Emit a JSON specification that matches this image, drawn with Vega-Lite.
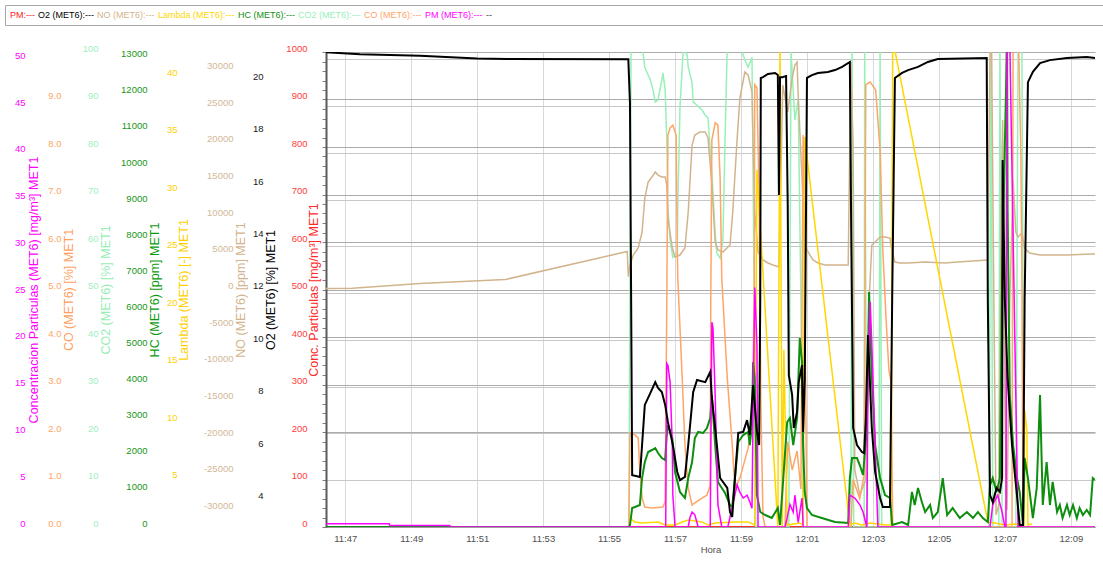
{
"$schema":"https://vega.github.io/schema/vega-lite/v6.json",
"width":769,"height":475,
"autosize":{"type":"none"},
"padding":{"left":326,"top":52,"right":8,"bottom":35},
"background":"white",
"config":{"view":{"stroke":null},"font":"Liberation Sans",
"axisY":{"domain":false,"ticks":false,"tickSize":0,"labelPadding":0,"labelFontSize":9.5,"labelOffset":-4,"labelOverlap":false,"titleFontSize":12.5,"titleFontWeight":"normal","titleAngle":270,"titleAlign":"center","titleBaseline":"middle","titleY":237.5,"grid":false}},
"data":{"format":{"parse":{"t":"date:'%H:%M:%S'"}},"values":[
{"s":"PM","t":"11:46:25","v":0},{"s":"PM","t":"12:09:44","v":0},
{"s":"CO2 (MET6)","t":"11:46:25","v":0},{"s":"CO2 (MET6)","t":"11:55:36","v":0},{"s":"CO2 (MET6)","t":"11:55:40","v":102.5},{"s":"CO2 (MET6)","t":"11:56:00","v":101.5},{"s":"CO2 (MET6)","t":"11:56:05","v":96.8},{"s":"CO2 (MET6)","t":"11:56:15","v":94.1},{"s":"CO2 (MET6)","t":"11:56:20","v":92},{"s":"CO2 (MET6)","t":"11:56:24","v":89.5},{"s":"CO2 (MET6)","t":"11:56:29","v":89.9},{"s":"CO2 (MET6)","t":"11:56:36","v":94.1},{"s":"CO2 (MET6)","t":"11:56:38","v":95.6},{"s":"CO2 (MET6)","t":"11:56:42","v":92},{"s":"CO2 (MET6)","t":"11:56:45","v":81.5},{"s":"CO2 (MET6)","t":"11:56:47","v":67.4},{"s":"CO2 (MET6)","t":"11:56:51","v":60.4},{"s":"CO2 (MET6)","t":"11:56:56","v":56.8},{"s":"CO2 (MET6)","t":"11:57:04","v":57.7},{"s":"CO2 (MET6)","t":"11:57:05","v":67.4},{"s":"CO2 (MET6)","t":"11:57:09","v":88.4},{"s":"CO2 (MET6)","t":"11:57:15","v":100.8},{"s":"CO2 (MET6)","t":"11:57:22","v":99.4},{"s":"CO2 (MET6)","t":"11:57:24","v":96.8},{"s":"CO2 (MET6)","t":"11:57:31","v":93.5},{"s":"CO2 (MET6)","t":"11:57:33","v":89.5},{"s":"CO2 (MET6)","t":"11:57:40","v":88.8},{"s":"CO2 (MET6)","t":"11:57:49","v":87.8},{"s":"CO2 (MET6)","t":"11:57:55","v":86.7},{"s":"CO2 (MET6)","t":"11:58:00","v":86.1},{"s":"CO2 (MET6)","t":"11:58:07","v":74.5},{"s":"CO2 (MET6)","t":"11:58:13","v":61.9},{"s":"CO2 (MET6)","t":"11:58:16","v":57.7},{"s":"CO2 (MET6)","t":"11:58:22","v":56.6},{"s":"CO2 (MET6)","t":"11:58:27","v":60.4},{"s":"CO2 (MET6)","t":"11:58:31","v":81.5},{"s":"CO2 (MET6)","t":"11:58:35","v":101.5},{"s":"CO2 (MET6)","t":"11:58:58","v":101.5},{"s":"CO2 (MET6)","t":"11:59:07","v":98.3},{"s":"CO2 (MET6)","t":"11:59:13","v":96.8},{"s":"CO2 (MET6)","t":"11:59:20","v":98.9},{"s":"CO2 (MET6)","t":"11:59:24","v":47.8},{"s":"CO2 (MET6)","t":"11:59:27","v":0},{"s":"CO2 (MET6)","t":"12:00:27","v":0},{"s":"CO2 (MET6)","t":"12:00:31","v":100},{"s":"CO2 (MET6)","t":"12:00:38","v":85.7},{"s":"CO2 (MET6)","t":"12:00:44","v":89.9},{"s":"CO2 (MET6)","t":"12:00:49","v":47.8},{"s":"CO2 (MET6)","t":"12:00:53","v":0},{"s":"CO2 (MET6)","t":"12:02:20","v":0},{"s":"CO2 (MET6)","t":"12:02:22","v":101.5},{"s":"CO2 (MET6)","t":"12:02:25","v":0},{"s":"CO2 (MET6)","t":"12:02:44","v":0},{"s":"CO2 (MET6)","t":"12:02:45","v":101.5},{"s":"CO2 (MET6)","t":"12:02:49","v":0},{"s":"CO2 (MET6)","t":"12:03:11","v":0},{"s":"CO2 (MET6)","t":"12:03:13","v":101.5},{"s":"CO2 (MET6)","t":"12:03:16","v":0},{"s":"CO2 (MET6)","t":"12:06:31","v":0},{"s":"CO2 (MET6)","t":"12:06:35","v":101.5},{"s":"CO2 (MET6)","t":"12:06:38","v":0},{"s":"CO2 (MET6)","t":"12:06:49","v":0},{"s":"CO2 (MET6)","t":"12:06:51","v":101.5},{"s":"CO2 (MET6)","t":"12:06:55","v":0},{"s":"CO2 (MET6)","t":"12:07:20","v":0},{"s":"CO2 (MET6)","t":"12:07:24","v":101.5},{"s":"CO2 (MET6)","t":"12:07:31","v":101.5},{"s":"CO2 (MET6)","t":"12:07:35","v":0},{"s":"CO2 (MET6)","t":"12:09:44","v":0},
{"s":"NO (MET6)","t":"11:46:25","v":136},{"s":"NO (MET6)","t":"11:47:13","v":163},{"s":"NO (MET6)","t":"11:49:16","v":817},{"s":"NO (MET6)","t":"11:51:51","v":1362},{"s":"NO (MET6)","t":"11:55:33","v":5176},{"s":"NO (MET6)","t":"11:55:35","v":1743},{"s":"NO (MET6)","t":"11:55:38","v":3337},{"s":"NO (MET6)","t":"11:55:44","v":4699},{"s":"NO (MET6)","t":"11:55:53","v":5652},{"s":"NO (MET6)","t":"11:56:00","v":7832},{"s":"NO (MET6)","t":"11:56:05","v":12462},{"s":"NO (MET6)","t":"11:56:11","v":14642},{"s":"NO (MET6)","t":"11:56:18","v":15323},{"s":"NO (MET6)","t":"11:56:24","v":16004},{"s":"NO (MET6)","t":"11:56:29","v":15595},{"s":"NO (MET6)","t":"11:56:36","v":15323},{"s":"NO (MET6)","t":"11:56:42","v":15323},{"s":"NO (MET6)","t":"11:56:45","v":14233},{"s":"NO (MET6)","t":"11:56:47","v":9738},{"s":"NO (MET6)","t":"11:56:55","v":5652},{"s":"NO (MET6)","t":"11:57:00","v":4427},{"s":"NO (MET6)","t":"11:57:09","v":4699},{"s":"NO (MET6)","t":"11:57:18","v":5652},{"s":"NO (MET6)","t":"11:57:24","v":10556},{"s":"NO (MET6)","t":"11:57:31","v":19681},{"s":"NO (MET6)","t":"11:57:36","v":21043},{"s":"NO (MET6)","t":"11:57:45","v":21452},{"s":"NO (MET6)","t":"11:57:55","v":21452},{"s":"NO (MET6)","t":"11:58:00","v":20634},{"s":"NO (MET6)","t":"11:58:07","v":14233},{"s":"NO (MET6)","t":"11:58:13","v":6470},{"s":"NO (MET6)","t":"11:58:18","v":5380},{"s":"NO (MET6)","t":"11:58:27","v":5108},{"s":"NO (MET6)","t":"11:58:40","v":6061},{"s":"NO (MET6)","t":"11:58:45","v":10556},{"s":"NO (MET6)","t":"11:58:53","v":20634},{"s":"NO (MET6)","t":"11:58:58","v":26082},{"s":"NO (MET6)","t":"11:59:07","v":29624},{"s":"NO (MET6)","t":"11:59:13","v":29215},{"s":"NO (MET6)","t":"11:59:20","v":26900},{"s":"NO (MET6)","t":"11:59:22","v":19681},{"s":"NO (MET6)","t":"11:59:25","v":10556},{"s":"NO (MET6)","t":"11:59:31","v":5108},{"s":"NO (MET6)","t":"11:59:40","v":4018},{"s":"NO (MET6)","t":"11:59:49","v":3609},{"s":"NO (MET6)","t":"11:59:58","v":3337},{"s":"NO (MET6)","t":"12:00:09","v":3065},{"s":"NO (MET6)","t":"12:00:16","v":27853},{"s":"NO (MET6)","t":"12:00:25","v":24176},{"s":"NO (MET6)","t":"12:00:33","v":28806},{"s":"NO (MET6)","t":"12:00:38","v":30577},{"s":"NO (MET6)","t":"12:00:42","v":30986},{"s":"NO (MET6)","t":"12:00:44","v":26491},{"s":"NO (MET6)","t":"12:00:51","v":15186},{"s":"NO (MET6)","t":"12:00:56","v":6061},{"s":"NO (MET6)","t":"12:01:02","v":5108},{"s":"NO (MET6)","t":"12:01:11","v":4018},{"s":"NO (MET6)","t":"12:01:20","v":3609},{"s":"NO (MET6)","t":"12:01:33","v":3337},{"s":"NO (MET6)","t":"12:02:15","v":3337},{"s":"NO (MET6)","t":"12:02:20","v":30986},{"s":"NO (MET6)","t":"12:02:24","v":19000},{"s":"NO (MET6)","t":"12:02:27","v":-24584},{"s":"NO (MET6)","t":"12:02:36","v":-27989},{"s":"NO (MET6)","t":"12:02:47","v":-25946},{"s":"NO (MET6)","t":"12:02:53","v":-1430},{"s":"NO (MET6)","t":"12:02:58","v":6061},{"s":"NO (MET6)","t":"12:03:04","v":6470},{"s":"NO (MET6)","t":"12:03:13","v":7151},{"s":"NO (MET6)","t":"12:03:22","v":7151},{"s":"NO (MET6)","t":"12:03:31","v":7014},{"s":"NO (MET6)","t":"12:03:35","v":5108},{"s":"NO (MET6)","t":"12:03:40","v":3746},{"s":"NO (MET6)","t":"12:03:49","v":3609},{"s":"NO (MET6)","t":"12:04:04","v":3609},{"s":"NO (MET6)","t":"12:04:35","v":3746},{"s":"NO (MET6)","t":"12:05:11","v":3609},{"s":"NO (MET6)","t":"12:05:33","v":3746},{"s":"NO (MET6)","t":"12:06:02","v":3882},{"s":"NO (MET6)","t":"12:06:29","v":4018},{"s":"NO (MET6)","t":"12:06:33","v":32300},{"s":"NO (MET6)","t":"12:06:36","v":32300},{"s":"NO (MET6)","t":"12:06:40","v":-1430},{"s":"NO (MET6)","t":"12:06:44","v":-30713},{"s":"NO (MET6)","t":"12:06:49","v":-29351},{"s":"NO (MET6)","t":"12:06:53","v":8104},{"s":"NO (MET6)","t":"12:06:56","v":23086},{"s":"NO (MET6)","t":"12:07:00","v":-15050},{"s":"NO (MET6)","t":"12:07:04","v":-30032},{"s":"NO (MET6)","t":"12:07:09","v":-1430},{"s":"NO (MET6)","t":"12:07:15","v":14914},{"s":"NO (MET6)","t":"12:07:20","v":7832},{"s":"NO (MET6)","t":"12:07:24","v":7151},{"s":"NO (MET6)","t":"12:07:31","v":7695},{"s":"NO (MET6)","t":"12:07:36","v":5652},{"s":"NO (MET6)","t":"12:07:45","v":4971},{"s":"NO (MET6)","t":"12:08:04","v":4699},{"s":"NO (MET6)","t":"12:08:53","v":4699},{"s":"NO (MET6)","t":"12:09:38","v":4835},{"s":"NO (MET6)","t":"12:09:44","v":4835},
{"s":"CO (MET6)","t":"11:46:25","v":0},{"s":"CO (MET6)","t":"11:55:36","v":0},{"s":"CO (MET6)","t":"11:55:38","v":1.98},{"s":"CO (MET6)","t":"11:55:47","v":1.94},{"s":"CO (MET6)","t":"11:55:53","v":1.87},{"s":"CO (MET6)","t":"11:55:56","v":1.16},{"s":"CO (MET6)","t":"11:56:00","v":0.61},{"s":"CO (MET6)","t":"11:56:05","v":0.42},{"s":"CO (MET6)","t":"11:56:18","v":0.4},{"s":"CO (MET6)","t":"11:56:38","v":0.42},{"s":"CO (MET6)","t":"11:56:42","v":0.53},{"s":"CO (MET6)","t":"11:56:45","v":4.78},{"s":"CO (MET6)","t":"11:56:47","v":8.25},{"s":"CO (MET6)","t":"11:56:51","v":8.4},{"s":"CO (MET6)","t":"11:56:56","v":8.46},{"s":"CO (MET6)","t":"11:57:02","v":8.25},{"s":"CO (MET6)","t":"11:57:04","v":5.94},{"s":"CO (MET6)","t":"11:57:05","v":5.24},{"s":"CO (MET6)","t":"11:57:13","v":3.14},{"s":"CO (MET6)","t":"11:57:18","v":1.73},{"s":"CO (MET6)","t":"11:57:24","v":0.82},{"s":"CO (MET6)","t":"11:57:31","v":0.46},{"s":"CO (MET6)","t":"11:57:36","v":0.51},{"s":"CO (MET6)","t":"11:57:49","v":0.61},{"s":"CO (MET6)","t":"11:57:58","v":0.67},{"s":"CO (MET6)","t":"11:58:04","v":0.88},{"s":"CO (MET6)","t":"11:58:05","v":4.78},{"s":"CO (MET6)","t":"11:58:07","v":8.15},{"s":"CO (MET6)","t":"11:58:13","v":8.51},{"s":"CO (MET6)","t":"11:58:18","v":8.46},{"s":"CO (MET6)","t":"11:58:22","v":7.35},{"s":"CO (MET6)","t":"11:58:25","v":5.24},{"s":"CO (MET6)","t":"11:58:35","v":3.14},{"s":"CO (MET6)","t":"11:58:44","v":1.73},{"s":"CO (MET6)","t":"11:58:49","v":0.82},{"s":"CO (MET6)","t":"11:58:58","v":1.03},{"s":"CO (MET6)","t":"11:59:13","v":1.66},{"s":"CO (MET6)","t":"11:59:20","v":2.15},{"s":"CO (MET6)","t":"11:59:24","v":4.78},{"s":"CO (MET6)","t":"11:59:25","v":9.31},{"s":"CO (MET6)","t":"11:59:29","v":9.24},{"s":"CO (MET6)","t":"11:59:33","v":6.88},{"s":"CO (MET6)","t":"11:59:36","v":2.67},{"s":"CO (MET6)","t":"11:59:40","v":0.21},{"s":"CO (MET6)","t":"11:59:44","v":0},{"s":"CO (MET6)","t":"12:00:20","v":0},{"s":"CO (MET6)","t":"12:00:25","v":1.8},{"s":"CO (MET6)","t":"12:00:33","v":1.2},{"s":"CO (MET6)","t":"12:00:42","v":1.6},{"s":"CO (MET6)","t":"12:00:49","v":0.8},{"s":"CO (MET6)","t":"12:00:53","v":8.25},{"s":"CO (MET6)","t":"12:00:56","v":4.78},{"s":"CO (MET6)","t":"12:01:00","v":0},{"s":"CO (MET6)","t":"12:02:20","v":0},{"s":"CO (MET6)","t":"12:02:24","v":1},{"s":"CO (MET6)","t":"12:02:36","v":0.6},{"s":"CO (MET6)","t":"12:02:44","v":1.1},{"s":"CO (MET6)","t":"12:02:47","v":9.31},{"s":"CO (MET6)","t":"12:02:55","v":9.37},{"s":"CO (MET6)","t":"12:03:05","v":9.2},{"s":"CO (MET6)","t":"12:03:13","v":7.94},{"s":"CO (MET6)","t":"12:03:18","v":5.83},{"s":"CO (MET6)","t":"12:03:24","v":4.36},{"s":"CO (MET6)","t":"12:03:29","v":3.31},{"s":"CO (MET6)","t":"12:03:33","v":3.05},{"s":"CO (MET6)","t":"12:03:36","v":0},{"s":"CO (MET6)","t":"12:07:13","v":0},{"s":"CO (MET6)","t":"12:07:15","v":10.15},{"s":"CO (MET6)","t":"12:07:25","v":10.15},{"s":"CO (MET6)","t":"12:07:29","v":7.94},{"s":"CO (MET6)","t":"12:07:31","v":5.52},{"s":"CO (MET6)","t":"12:07:33","v":0},{"s":"CO (MET6)","t":"12:09:44","v":0},
{"s":"Lambda (MET6)","t":"11:55:38","v":1.82},{"s":"Lambda (MET6)","t":"11:55:42","v":1.39},{"s":"Lambda (MET6)","t":"11:55:47","v":1.22},{"s":"Lambda (MET6)","t":"11:56:00","v":1.13},{"s":"Lambda (MET6)","t":"11:56:29","v":1.22},{"s":"Lambda (MET6)","t":"11:56:42","v":0.95},{"s":"Lambda (MET6)","t":"11:57:00","v":0.95},{"s":"Lambda (MET6)","t":"11:57:13","v":1.22},{"s":"Lambda (MET6)","t":"11:57:24","v":1.39},{"s":"Lambda (MET6)","t":"11:57:49","v":1.22},{"s":"Lambda (MET6)","t":"11:58:00","v":0.95},{"s":"Lambda (MET6)","t":"11:58:13","v":1.13},{"s":"Lambda (MET6)","t":"11:58:49","v":1.22},{"s":"Lambda (MET6)","t":"11:59:13","v":1.22},{"s":"Lambda (MET6)","t":"11:59:25","v":0.95},{"s":"Lambda (MET6)","t":"11:59:29","v":31.85},{"s":"Lambda (MET6)","t":"12:00:07","v":0.8},{"s":"Lambda (MET6)","t":"12:00:11","v":43.2},{"s":"Lambda (MET6)","t":"12:00:15","v":0.8},{"s":"Lambda (MET6)","t":"12:00:18","v":16.2},{"s":"Lambda (MET6)","t":"12:00:24","v":0.95},{"s":"Lambda (MET6)","t":"12:00:47","v":1.13},{"s":"Lambda (MET6)","t":"12:00:53","v":0.95},{"s":"Lambda (MET6)","t":"12:00:56","v":34.7},{"s":"Lambda (MET6)","t":"12:02:18","v":0.95},{"s":"Lambda (MET6)","t":"12:02:27","v":1.13},{"s":"Lambda (MET6)","t":"12:02:40","v":0.95},{"s":"Lambda (MET6)","t":"12:02:55","v":1.13},{"s":"Lambda (MET6)","t":"12:03:22","v":0.95},{"s":"Lambda (MET6)","t":"12:03:33","v":0.95},{"s":"Lambda (MET6)","t":"12:03:36","v":43.2},{"s":"Lambda (MET6)","t":"12:06:29","v":1.22},{"s":"Lambda (MET6)","t":"12:06:42","v":1.13},{"s":"Lambda (MET6)","t":"12:07:00","v":0.95},{"s":"Lambda (MET6)","t":"12:07:18","v":1.04},{"s":"Lambda (MET6)","t":"12:07:35","v":0.95},{"s":"Lambda (MET6)","t":"12:07:36","v":10.96},{"s":"Lambda (MET6)","t":"12:07:40","v":9.22},{"s":"Lambda (MET6)","t":"12:07:42","v":0.95},{"s":"Lambda (MET6)","t":"12:07:49","v":1.04},
{"s":"PM (MET6)","t":"11:46:25","v":0.35},{"s":"PM (MET6)","t":"11:48:20","v":0.35},{"s":"PM (MET6)","t":"11:48:21","v":0.15},{"s":"PM (MET6)","t":"11:50:10","v":0.15},{"s":"PM (MET6)","t":"11:50:12","v":0},{"s":"PM (MET6)","t":"11:56:43","v":0},{"s":"PM (MET6)","t":"11:56:45","v":17.5},{"s":"PM (MET6)","t":"11:56:47","v":17.3},{"s":"PM (MET6)","t":"11:56:51","v":15.5},{"s":"PM (MET6)","t":"11:56:55","v":8.8},{"s":"PM (MET6)","t":"11:56:56","v":3.4},{"s":"PM (MET6)","t":"11:57:00","v":0},{"s":"PM (MET6)","t":"11:57:24","v":0},{"s":"PM (MET6)","t":"11:57:27","v":1},{"s":"PM (MET6)","t":"11:57:31","v":1.6},{"s":"PM (MET6)","t":"11:57:36","v":1.3},{"s":"PM (MET6)","t":"11:57:42","v":0},{"s":"PM (MET6)","t":"11:58:04","v":0},{"s":"PM (MET6)","t":"11:58:07","v":21.9},{"s":"PM (MET6)","t":"11:58:09","v":21.3},{"s":"PM (MET6)","t":"11:58:13","v":14.1},{"s":"PM (MET6)","t":"11:58:16","v":7},{"s":"PM (MET6)","t":"11:58:18","v":2.4},{"s":"PM (MET6)","t":"11:58:25","v":0},{"s":"PM (MET6)","t":"11:58:36","v":0},{"s":"PM (MET6)","t":"11:58:45","v":2.4},{"s":"PM (MET6)","t":"11:58:53","v":4.5},{"s":"PM (MET6)","t":"11:58:58","v":3.7},{"s":"PM (MET6)","t":"11:59:04","v":3.1},{"s":"PM (MET6)","t":"11:59:11","v":3.4},{"s":"PM (MET6)","t":"11:59:16","v":2.7},{"s":"PM (MET6)","t":"11:59:20","v":2},{"s":"PM (MET6)","t":"11:59:22","v":12.3},{"s":"PM (MET6)","t":"11:59:25","v":25.6},{"s":"PM (MET6)","t":"11:59:29","v":19.5},{"s":"PM (MET6)","t":"11:59:31","v":0},{"s":"PM (MET6)","t":"12:00:20","v":0},{"s":"PM (MET6)","t":"12:00:24","v":1},{"s":"PM (MET6)","t":"12:00:29","v":2.4},{"s":"PM (MET6)","t":"12:00:35","v":1.6},{"s":"PM (MET6)","t":"12:00:38","v":3.4},{"s":"PM (MET6)","t":"12:00:44","v":0.5},{"s":"PM (MET6)","t":"12:00:51","v":3.1},{"s":"PM (MET6)","t":"12:00:53","v":0},{"s":"PM (MET6)","t":"12:02:15","v":0},{"s":"PM (MET6)","t":"12:02:18","v":3.4},{"s":"PM (MET6)","t":"12:02:27","v":3.1},{"s":"PM (MET6)","t":"12:02:36","v":2.4},{"s":"PM (MET6)","t":"12:02:42","v":1.6},{"s":"PM (MET6)","t":"12:02:49","v":0},{"s":"PM (MET6)","t":"12:02:51","v":15.9},{"s":"PM (MET6)","t":"12:02:55","v":24.1},{"s":"PM (MET6)","t":"12:02:58","v":19.5},{"s":"PM (MET6)","t":"12:03:04","v":8.8},{"s":"PM (MET6)","t":"12:03:09","v":0},{"s":"PM (MET6)","t":"12:06:33","v":0},{"s":"PM (MET6)","t":"12:06:38","v":2.4},{"s":"PM (MET6)","t":"12:06:47","v":3.4},{"s":"PM (MET6)","t":"12:06:55","v":1.6},{"s":"PM (MET6)","t":"12:07:00","v":0},{"s":"PM (MET6)","t":"12:07:02","v":0},{"s":"PM (MET6)","t":"12:07:04","v":52},{"s":"PM (MET6)","t":"12:07:09","v":52},{"s":"PM (MET6)","t":"12:07:24","v":0},{"s":"PM (MET6)","t":"12:09:44","v":0},
{"s":"HC (MET6)","t":"11:46:25","v":0},{"s":"HC (MET6)","t":"11:55:36","v":0},{"s":"HC (MET6)","t":"11:55:38","v":55},{"s":"HC (MET6)","t":"11:55:42","v":526},{"s":"HC (MET6)","t":"11:55:47","v":554},{"s":"HC (MET6)","t":"11:55:56","v":609},{"s":"HC (MET6)","t":"11:56:00","v":1357},{"s":"HC (MET6)","t":"11:56:05","v":1800},{"s":"HC (MET6)","t":"11:56:11","v":2078},{"s":"HC (MET6)","t":"11:56:18","v":2133},{"s":"HC (MET6)","t":"11:56:24","v":2188},{"s":"HC (MET6)","t":"11:56:29","v":2050},{"s":"HC (MET6)","t":"11:56:36","v":1911},{"s":"HC (MET6)","t":"11:56:42","v":1856},{"s":"HC (MET6)","t":"11:56:45","v":2548},{"s":"HC (MET6)","t":"11:56:47","v":2825},{"s":"HC (MET6)","t":"11:56:55","v":2465},{"s":"HC (MET6)","t":"11:57:00","v":1524},{"s":"HC (MET6)","t":"11:57:09","v":970},{"s":"HC (MET6)","t":"11:57:18","v":803},{"s":"HC (MET6)","t":"11:57:24","v":1357},{"s":"HC (MET6)","t":"11:57:31","v":1800},{"s":"HC (MET6)","t":"11:57:36","v":2465},{"s":"HC (MET6)","t":"11:57:42","v":2632},{"s":"HC (MET6)","t":"11:57:51","v":2604},{"s":"HC (MET6)","t":"11:57:58","v":2742},{"s":"HC (MET6)","t":"11:58:04","v":3019},{"s":"HC (MET6)","t":"11:58:07","v":3656},{"s":"HC (MET6)","t":"11:58:13","v":2271},{"s":"HC (MET6)","t":"11:58:18","v":1247},{"s":"HC (MET6)","t":"11:58:25","v":1080},{"s":"HC (MET6)","t":"11:58:31","v":942},{"s":"HC (MET6)","t":"11:58:40","v":609},{"s":"HC (MET6)","t":"11:58:44","v":554},{"s":"HC (MET6)","t":"11:58:49","v":1357},{"s":"HC (MET6)","t":"11:58:55","v":2355},{"s":"HC (MET6)","t":"11:59:04","v":2548},{"s":"HC (MET6)","t":"11:59:13","v":2632},{"s":"HC (MET6)","t":"11:59:16","v":2271},{"s":"HC (MET6)","t":"11:59:20","v":2825},{"s":"HC (MET6)","t":"11:59:22","v":4571},{"s":"HC (MET6)","t":"11:59:25","v":4127},{"s":"HC (MET6)","t":"11:59:29","v":886},{"s":"HC (MET6)","t":"11:59:35","v":416},{"s":"HC (MET6)","t":"11:59:44","v":332},{"s":"HC (MET6)","t":"11:59:56","v":249},{"s":"HC (MET6)","t":"12:00:07","v":526},{"s":"HC (MET6)","t":"12:00:11","v":55},{"s":"HC (MET6)","t":"12:00:24","v":2909},{"s":"HC (MET6)","t":"12:00:29","v":3019},{"s":"HC (MET6)","t":"12:00:35","v":2271},{"s":"HC (MET6)","t":"12:00:42","v":3019},{"s":"HC (MET6)","t":"12:00:44","v":3933},{"s":"HC (MET6)","t":"12:00:47","v":5235},{"s":"HC (MET6)","t":"12:00:51","v":4571},{"s":"HC (MET6)","t":"12:00:53","v":2271},{"s":"HC (MET6)","t":"12:00:56","v":970},{"s":"HC (MET6)","t":"12:01:00","v":526},{"s":"HC (MET6)","t":"12:01:09","v":332},{"s":"HC (MET6)","t":"12:01:27","v":249},{"s":"HC (MET6)","t":"12:01:51","v":139},{"s":"HC (MET6)","t":"12:02:15","v":111},{"s":"HC (MET6)","t":"12:02:18","v":1357},{"s":"HC (MET6)","t":"12:02:22","v":1911},{"s":"HC (MET6)","t":"12:02:31","v":1911},{"s":"HC (MET6)","t":"12:02:36","v":1717},{"s":"HC (MET6)","t":"12:02:42","v":1440},{"s":"HC (MET6)","t":"12:02:49","v":2742},{"s":"HC (MET6)","t":"12:02:53","v":6510},{"s":"HC (MET6)","t":"12:02:58","v":4127},{"s":"HC (MET6)","t":"12:03:04","v":2271},{"s":"HC (MET6)","t":"12:03:13","v":1357},{"s":"HC (MET6)","t":"12:03:22","v":886},{"s":"HC (MET6)","t":"12:03:31","v":803},{"s":"HC (MET6)","t":"12:03:35","v":55},{"s":"HC (MET6)","t":"12:03:53","v":139},{"s":"HC (MET6)","t":"12:04:04","v":55},{"s":"HC (MET6)","t":"12:04:11","v":970},{"s":"HC (MET6)","t":"12:04:16","v":609},{"s":"HC (MET6)","t":"12:04:22","v":1080},{"s":"HC (MET6)","t":"12:04:29","v":693},{"s":"HC (MET6)","t":"12:04:35","v":416},{"s":"HC (MET6)","t":"12:04:44","v":609},{"s":"HC (MET6)","t":"12:04:49","v":249},{"s":"HC (MET6)","t":"12:04:58","v":416},{"s":"HC (MET6)","t":"12:05:07","v":1357},{"s":"HC (MET6)","t":"12:05:15","v":332},{"s":"HC (MET6)","t":"12:05:25","v":526},{"s":"HC (MET6)","t":"12:05:38","v":249},{"s":"HC (MET6)","t":"12:05:51","v":416},{"s":"HC (MET6)","t":"12:06:02","v":249},{"s":"HC (MET6)","t":"12:06:11","v":416},{"s":"HC (MET6)","t":"12:06:20","v":249},{"s":"HC (MET6)","t":"12:06:29","v":139},{"s":"HC (MET6)","t":"12:06:33","v":1163},{"s":"HC (MET6)","t":"12:06:38","v":1357},{"s":"HC (MET6)","t":"12:06:45","v":970},{"s":"HC (MET6)","t":"12:06:51","v":1357},{"s":"HC (MET6)","t":"12:06:55","v":6897},{"s":"HC (MET6)","t":"12:07:00","v":10581},{"s":"HC (MET6)","t":"12:07:04","v":13490},{"s":"HC (MET6)","t":"12:07:05","v":8726},{"s":"HC (MET6)","t":"12:07:09","v":3656},{"s":"HC (MET6)","t":"12:07:15","v":2271},{"s":"HC (MET6)","t":"12:07:22","v":1357},{"s":"HC (MET6)","t":"12:07:27","v":970},{"s":"HC (MET6)","t":"12:07:33","v":55},{"s":"HC (MET6)","t":"12:07:36","v":1911},{"s":"HC (MET6)","t":"12:07:42","v":1357},{"s":"HC (MET6)","t":"12:07:51","v":249},{"s":"HC (MET6)","t":"12:07:58","v":1080},{"s":"HC (MET6)","t":"12:08:04","v":3656},{"s":"HC (MET6)","t":"12:08:09","v":609},{"s":"HC (MET6)","t":"12:08:16","v":1800},{"s":"HC (MET6)","t":"12:08:22","v":609},{"s":"HC (MET6)","t":"12:08:27","v":1247},{"s":"HC (MET6)","t":"12:08:35","v":416},{"s":"HC (MET6)","t":"12:08:40","v":609},{"s":"HC (MET6)","t":"12:08:45","v":249},{"s":"HC (MET6)","t":"12:08:53","v":609},{"s":"HC (MET6)","t":"12:08:58","v":332},{"s":"HC (MET6)","t":"12:09:04","v":609},{"s":"HC (MET6)","t":"12:09:11","v":249},{"s":"HC (MET6)","t":"12:09:16","v":526},{"s":"HC (MET6)","t":"12:09:22","v":332},{"s":"HC (MET6)","t":"12:09:29","v":471},{"s":"HC (MET6)","t":"12:09:35","v":332},{"s":"HC (MET6)","t":"12:09:40","v":1357},{"s":"HC (MET6)","t":"12:09:44","v":1302},
{"s":"O2 (MET6)","t":"11:46:25","v":21.07},{"s":"O2 (MET6)","t":"11:47:27","v":20.99},{"s":"O2 (MET6)","t":"11:49:16","v":20.94},{"s":"O2 (MET6)","t":"11:51:00","v":20.83},{"s":"O2 (MET6)","t":"11:51:55","v":20.81},{"s":"O2 (MET6)","t":"11:55:35","v":20.8},{"s":"O2 (MET6)","t":"11:55:38","v":19.13},{"s":"O2 (MET6)","t":"11:55:42","v":4.93},{"s":"O2 (MET6)","t":"11:55:49","v":4.9},{"s":"O2 (MET6)","t":"11:55:56","v":4.86},{"s":"O2 (MET6)","t":"11:56:00","v":6.08},{"s":"O2 (MET6)","t":"11:56:05","v":7.61},{"s":"O2 (MET6)","t":"11:56:15","v":8.06},{"s":"O2 (MET6)","t":"11:56:24","v":8.48},{"s":"O2 (MET6)","t":"11:56:29","v":8.26},{"s":"O2 (MET6)","t":"11:56:36","v":8.1},{"s":"O2 (MET6)","t":"11:56:42","v":7.61},{"s":"O2 (MET6)","t":"11:56:47","v":6.96},{"s":"O2 (MET6)","t":"11:56:56","v":6.08},{"s":"O2 (MET6)","t":"11:57:04","v":5.05},{"s":"O2 (MET6)","t":"11:57:09","v":4.74},{"s":"O2 (MET6)","t":"11:57:18","v":4.86},{"s":"O2 (MET6)","t":"11:57:24","v":6.08},{"s":"O2 (MET6)","t":"11:57:33","v":8.1},{"s":"O2 (MET6)","t":"11:57:40","v":8.56},{"s":"O2 (MET6)","t":"11:57:55","v":8.48},{"s":"O2 (MET6)","t":"11:58:04","v":8.87},{"s":"O2 (MET6)","t":"11:58:07","v":7.87},{"s":"O2 (MET6)","t":"11:58:13","v":6.73},{"s":"O2 (MET6)","t":"11:58:22","v":4.82},{"s":"O2 (MET6)","t":"11:58:35","v":4.44},{"s":"O2 (MET6)","t":"11:58:40","v":3.52},{"s":"O2 (MET6)","t":"11:58:44","v":3.33},{"s":"O2 (MET6)","t":"11:58:49","v":4.82},{"s":"O2 (MET6)","t":"11:58:55","v":6.54},{"s":"O2 (MET6)","t":"11:59:04","v":6.58},{"s":"O2 (MET6)","t":"11:59:11","v":7.03},{"s":"O2 (MET6)","t":"11:59:16","v":6.46},{"s":"O2 (MET6)","t":"11:59:22","v":8.37},{"s":"O2 (MET6)","t":"11:59:29","v":6.58},{"s":"O2 (MET6)","t":"11:59:33","v":6.08},{"s":"O2 (MET6)","t":"11:59:35","v":11.61},{"s":"O2 (MET6)","t":"11:59:36","v":20.09},{"s":"O2 (MET6)","t":"11:59:40","v":20.12},{"s":"O2 (MET6)","t":"11:59:49","v":20.24},{"s":"O2 (MET6)","t":"12:00:02","v":20.28},{"s":"O2 (MET6)","t":"12:00:07","v":20.2},{"s":"O2 (MET6)","t":"12:00:09","v":15.62},{"s":"O2 (MET6)","t":"12:00:11","v":20.12},{"s":"O2 (MET6)","t":"12:00:15","v":20.12},{"s":"O2 (MET6)","t":"12:00:22","v":20.16},{"s":"O2 (MET6)","t":"12:00:25","v":15.24},{"s":"O2 (MET6)","t":"12:00:27","v":8.75},{"s":"O2 (MET6)","t":"12:00:33","v":7.99},{"s":"O2 (MET6)","t":"12:00:36","v":6.73},{"s":"O2 (MET6)","t":"12:00:42","v":7.34},{"s":"O2 (MET6)","t":"12:00:45","v":8.48},{"s":"O2 (MET6)","t":"12:00:51","v":9.13},{"s":"O2 (MET6)","t":"12:00:53","v":6.58},{"s":"O2 (MET6)","t":"12:00:56","v":8.56},{"s":"O2 (MET6)","t":"12:01:00","v":20.09},{"s":"O2 (MET6)","t":"12:01:09","v":20.2},{"s":"O2 (MET6)","t":"12:01:20","v":20.28},{"s":"O2 (MET6)","t":"12:01:38","v":20.32},{"s":"O2 (MET6)","t":"12:01:51","v":20.39},{"s":"O2 (MET6)","t":"12:02:04","v":20.51},{"s":"O2 (MET6)","t":"12:02:18","v":20.7},{"s":"O2 (MET6)","t":"12:02:20","v":15.43},{"s":"O2 (MET6)","t":"12:02:24","v":6.73},{"s":"O2 (MET6)","t":"12:02:31","v":6.08},{"s":"O2 (MET6)","t":"12:02:40","v":5.81},{"s":"O2 (MET6)","t":"12:02:44","v":5.77},{"s":"O2 (MET6)","t":"12:02:47","v":7.03},{"s":"O2 (MET6)","t":"12:02:51","v":10.28},{"s":"O2 (MET6)","t":"12:02:58","v":6.73},{"s":"O2 (MET6)","t":"12:03:04","v":5.05},{"s":"O2 (MET6)","t":"12:03:13","v":4.06},{"s":"O2 (MET6)","t":"12:03:18","v":3.71},{"s":"O2 (MET6)","t":"12:03:31","v":3.71},{"s":"O2 (MET6)","t":"12:03:35","v":11.61},{"s":"O2 (MET6)","t":"12:03:40","v":20.09},{"s":"O2 (MET6)","t":"12:03:53","v":20.28},{"s":"O2 (MET6)","t":"12:04:04","v":20.39},{"s":"O2 (MET6)","t":"12:04:22","v":20.51},{"s":"O2 (MET6)","t":"12:04:40","v":20.7},{"s":"O2 (MET6)","t":"12:04:58","v":20.81},{"s":"O2 (MET6)","t":"12:06:27","v":20.85},{"s":"O2 (MET6)","t":"12:06:29","v":11.61},{"s":"O2 (MET6)","t":"12:06:33","v":4.17},{"s":"O2 (MET6)","t":"12:06:38","v":3.9},{"s":"O2 (MET6)","t":"12:06:45","v":4.44},{"s":"O2 (MET6)","t":"12:06:51","v":4.29},{"s":"O2 (MET6)","t":"12:06:55","v":4.82},{"s":"O2 (MET6)","t":"12:06:56","v":16.96},{"s":"O2 (MET6)","t":"12:07:00","v":11.61},{"s":"O2 (MET6)","t":"12:07:05","v":8.64},{"s":"O2 (MET6)","t":"12:07:13","v":6.08},{"s":"O2 (MET6)","t":"12:07:22","v":4.17},{"s":"O2 (MET6)","t":"12:07:27","v":3.03},{"s":"O2 (MET6)","t":"12:07:33","v":3.03},{"s":"O2 (MET6)","t":"12:07:36","v":11.61},{"s":"O2 (MET6)","t":"12:07:42","v":19.93},{"s":"O2 (MET6)","t":"12:07:51","v":20.32},{"s":"O2 (MET6)","t":"12:08:04","v":20.66},{"s":"O2 (MET6)","t":"12:08:22","v":20.77},{"s":"O2 (MET6)","t":"12:08:53","v":20.85},{"s":"O2 (MET6)","t":"12:09:29","v":20.89},{"s":"O2 (MET6)","t":"12:09:44","v":20.85}
]},
"encoding":{
"x":{"field":"t","type":"temporal","scale":{"domain":[{"year":1900,"month":1,"date":1,"hours":11,"minutes":46,"seconds":25},{"year":1900,"month":1,"date":1,"hours":12,"minutes":9,"seconds":44}]},
"axis":{"values":[{"year":1900,"month":1,"date":1,"hours":11,"minutes":47},{"year":1900,"month":1,"date":1,"hours":11,"minutes":49},{"year":1900,"month":1,"date":1,"hours":11,"minutes":51},{"year":1900,"month":1,"date":1,"hours":11,"minutes":53},{"year":1900,"month":1,"date":1,"hours":11,"minutes":55},{"year":1900,"month":1,"date":1,"hours":11,"minutes":57},{"year":1900,"month":1,"date":1,"hours":11,"minutes":59},{"year":1900,"month":1,"date":1,"hours":12,"minutes":1},{"year":1900,"month":1,"date":1,"hours":12,"minutes":3},{"year":1900,"month":1,"date":1,"hours":12,"minutes":5},{"year":1900,"month":1,"date":1,"hours":12,"minutes":7},{"year":1900,"month":1,"date":1,"hours":12,"minutes":9}],
"format":"%H:%M","title":"Hora","grid":true,"gridColor":"#D9D9D9","domain":true,"domainColor":"#A0A0A0","ticks":false,"labelFlush":false,"labelFontSize":9.5,"labelColor":"#505050","labelPadding":6,"titleFontSize":9.5,"titleFontWeight":"normal","titleColor":"#505050","titlePadding":2}},
"color":{"field":"s","type":"nominal",
"scale":{"domain":["PM","O2 (MET6)","NO (MET6)","Lambda (MET6)","HC (MET6)","CO2 (MET6)","CO (MET6)","PM (MET6)","none"],"range":["#FF2020","#000000","#D2B48C","#FFD700","#0E8E0E","#98F0B8","#FFA566","#FF00FF","#404040"]},
"legend":{"orient":"none","legendX":-321,"legendY":-47,"direction":"horizontal","title":null,"symbolSize":0,"symbolStrokeWidth":0,"symbolOpacity":0,"labelOffset":-9,"columnPadding":3,"labelFontSize":9,"labelLimit":0,"labelColor":{"expr":"scale('color', datum.value)"},"labelExpr":"datum.value == 'none' ? pad('--', 200, '\u2800') : datum.label + ':---'","strokeColor":"#A8A8A8","fillColor":"#FFFFFF","padding":5}}
},
"layer":[
{"transform":[{"filter":"datum.s == 'PM'"}],"mark":{"type":"line","clip":true,"strokeWidth":1.5},
"encoding":{"y":{"field":"v","type":"quantitative","scale":{"domain":[0,1000],"nice":false,"zero":false},"axis":{"orient":"left","offset":0,"labels":false,"title":null,"domain":true,"domainColor":"#5A5A5A","domainWidth":2,"ticks":true,"tickSize":4,"tickColor":"#808080","tickCount":40}}}},
{"transform":[{"filter":"datum.s == 'PM'"}],"mark":{"type":"line","clip":true,"strokeWidth":1.5},
"encoding":{"y":{"field":"v","type":"quantitative","scale":{"domain":[0,1000],"nice":false,"zero":false},"axis":{"orient":"left","offset":19,"values":[0,100,200,300,400,500,600,700,800,900,1000],"format":"d","grid":true,"gridColor":"#ABABAB","labelColor":"#FF3B3B","title":"Conc. Particulas [mg/m³] MET1","titleColor":"#FF2A2A","titleX":6.5}}}},
{"transform":[{"filter":"datum.s == 'CO2 (MET6)'"}],"mark":{"type":"line","clip":true,"strokeWidth":1.5},
"encoding":{"y":{"field":"v","type":"quantitative","scale":{"domain":[0,100],"nice":false,"zero":false},"axis":{"orient":"left","offset":228,"values":[0,10,20,30,40,50,60,70,80,90,100],"labelColor":"#A0F0C0","title":"CO2 (MET6) [%] MET1","titleColor":"#98EDB5","titleX":7}}}},
{"transform":[{"filter":"datum.s == 'NO (MET6)'"}],"mark":{"type":"line","clip":true,"strokeWidth":1.5},
"encoding":{"y":{"field":"v","type":"quantitative","scale":{"domain":[-32360,32360],"nice":false,"zero":false},"axis":{"orient":"left","offset":93,"values":[-30000,-25000,-20000,-15000,-10000,-5000,0,5000,10000,15000,20000,25000,30000],"labelExpr":"'' + datum.value","labelColor":"#D2B896","title":"NO (MET6) [ppm] MET1","titleColor":"#D2B48C","titleX":7.5}}}},
{"transform":[{"filter":"datum.s == 'CO (MET6)'"}],"mark":{"type":"line","clip":true,"strokeWidth":1.5},
"encoding":{"y":{"field":"v","type":"quantitative","scale":{"domain":[0,10],"nice":false,"zero":false},"axis":{"orient":"left","offset":265,"values":[0,1,2,3,4,5,6,7,8,9],"format":".1f","labelColor":"#FFA566","title":"CO (MET6) [%] MET1","titleColor":"#FFA060","titleX":7.5}}}},
{"transform":[{"filter":"datum.s == 'Lambda (MET6)'"}],"mark":{"type":"line","clip":true,"strokeWidth":1.5},
"encoding":{"y":{"field":"v","type":"quantitative","scale":{"domain":[0.78,42.1],"nice":false,"zero":false},"axis":{"orient":"left","offset":149,"values":[5,10,15,20,25,30,35,40],"labelColor":"#FFD000","title":"Lambda (MET6) [-] MET1","titleColor":"#FFD000","titleX":6.5}}}},
{"transform":[{"filter":"datum.s == 'HC (MET6)'"}],"mark":{"type":"line","clip":true,"strokeWidth":2},
"encoding":{"y":{"field":"v","type":"quantitative","scale":{"domain":[0,13160],"nice":false,"zero":false},"axis":{"orient":"left","offset":179,"values":[0,1000,2000,3000,4000,5000,6000,7000,8000,9000,10000,11000,12000,13000],"format":"d","labelColor":"#179617","title":"HC (MET6) [ppm] MET1","titleColor":"#0E9A0E","titleX":7.5}}}},
{"transform":[{"filter":"datum.s == 'PM (MET6)'"}],"mark":{"type":"line","clip":true,"strokeWidth":1.5},
"encoding":{"y":{"field":"v","type":"quantitative","scale":{"domain":[0,50.8],"nice":false,"zero":false},"axis":{"orient":"left","offset":301,"values":[0,5,10,15,20,25,30,35,40,45,50],"grid":true,"gridColor":"#C8C8C8","labelColor":"#FF00FF","title":"Concentracion Particulas (MET6) [mg/m³] MET1","titleColor":"#FF00FF","titleX":8.5}}}},
{"transform":[{"filter":"datum.s == 'O2 (MET6)'"}],"mark":{"type":"line","clip":true,"strokeWidth":2},
"encoding":{"y":{"field":"v","type":"quantitative","scale":{"domain":[2.95,21.08],"nice":false,"zero":false},"axis":{"orient":"left","offset":63,"values":[4,6,8,10,12,14,16,18,20],"labelColor":"#202020","title":"O2 (MET6) [%] MET1","titleColor":"#000000","titleX":7.5}}}}
],
"resolve":{"scale":{"y":"independent"},"axis":{"y":"independent"}}
}
